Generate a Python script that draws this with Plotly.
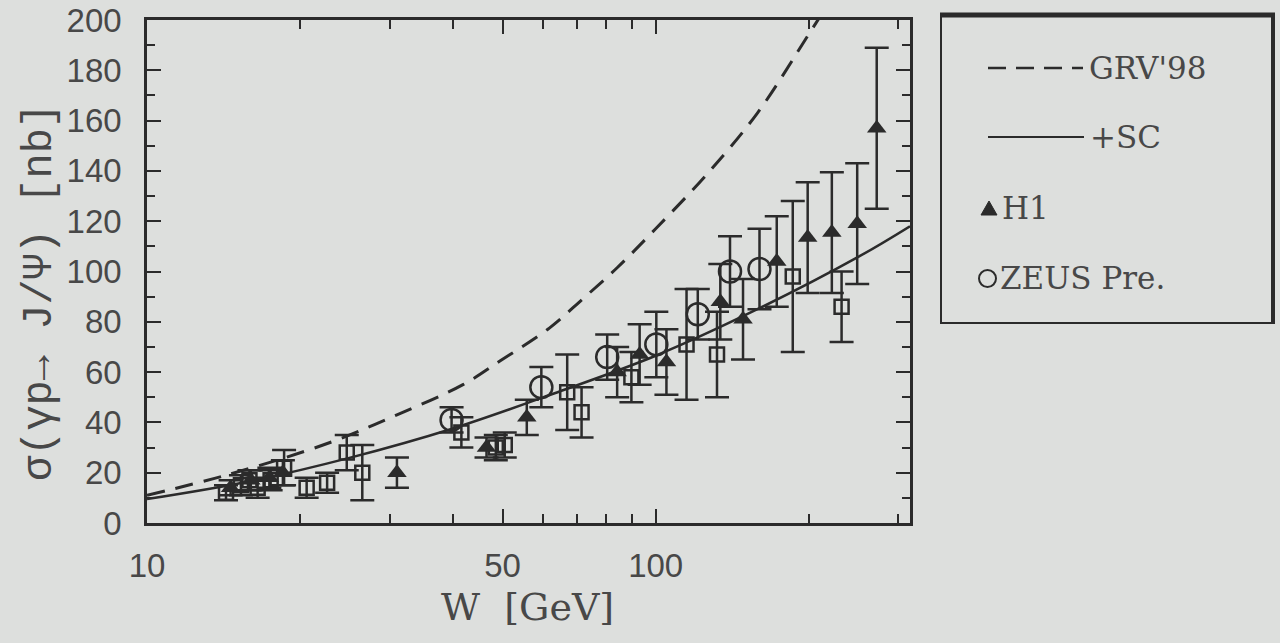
import plotly.graph_objects as go

# --- model curves -------------------------------------------------------
w_grv = [10, 14.6, 22.9, 31, 41.8, 49.4, 61.8, 71.8, 84.1, 100, 125.9, 158.5, 199.5, 224]
sig_grv = [11, 19.5, 32, 43, 55, 64.4, 77.5, 89, 101.6, 117, 138.5, 163, 194, 210]

w_sc = [10, 15.85, 25.1, 39.8, 63.1, 100, 158.5, 251.2, 316.2]
sig_sc = [9.5, 16.5, 26, 37.5, 51.5, 66.5, 85, 106, 118]

# --- H1 data (triangles) ------------------------------------------------
w_h1 = [14.6, 16.0, 17.4, 18.5, 31.0, 46.5, 55.8, 84, 93, 105, 134, 148.5, 173, 199, 222, 249, 272]
sig_h1 = [14, 17, 18, 20, 20, 30, 42, 60, 67, 64, 88, 81, 104, 113.5, 115.5, 119, 157]
err_h1 = [3, 4, 4, 5, 6, 4, 7, 10, 12, 13, 15, 16, 18, 22, 24, 24, 32]

# --- ZEUS preliminary data (open circles) -------------------------------
w_zeus = [39.7, 59.6, 80.3, 100.3, 121, 140, 160]
sig_zeus = [41, 54, 66, 71, 83, 100, 101]
err_zeus = [5, 8, 9, 13, 10, 14, 16]

# --- further measurements (open squares) --------------------------------
w_sq = [14.3, 15.3, 15.9, 16.5, 17.5, 18.6, 20.6, 22.6, 24.7, 26.5, 41.5, 48.5, 50.5,
        67, 71.5, 89.6, 115, 132, 186, 232]
sig_sq = [12, 15, 17, 14, 17, 22, 14, 16, 28, 20, 36, 30, 31,
          52, 44, 58, 71, 67, 98, 86]
err_sq = [3, 4, 4, 4, 4, 7, 4, 4, 7, 11, 6, 5, 5,
          15, 10, 10, 22, 17, 30, 14]

x_title = "W  [GeV]"
y_title = "σ(γp→ J/Ψ) [nb]"

INK = "#2b2b2b"
TXT = "#484848"
BG = "#dddfdd"
SERIF = "DejaVu Serif"
MONO = "Liberation Mono"
SANS = "Liberation Sans"

fig = go.Figure()

fig.add_trace(go.Scatter(x=w_grv, y=sig_grv, mode="lines", name="GRV'98",
                         line=dict(color=INK, width=3, dash="18px,11px", shape="spline")))
fig.add_trace(go.Scatter(x=w_sc, y=sig_sc, mode="lines", name="+SC",
                         line=dict(color=INK, width=2.5, shape="spline")))

ebar = dict(type="data", color=INK, thickness=2.5, width=12)

fig.add_trace(go.Scatter(x=w_sq, y=sig_sq, mode="markers", name="other",
                         marker=dict(symbol="square-open", size=14, color=INK,
                                     line=dict(width=2.5, color=INK)),
                         error_y=dict(array=err_sq, **ebar)))
fig.add_trace(go.Scatter(x=w_zeus, y=sig_zeus, mode="markers", name="ZEUS Pre.",
                         marker=dict(symbol="circle-open", size=22, color=INK,
                                     line=dict(width=2.5, color=INK)),
                         error_y=dict(array=err_zeus, **ebar)))
fig.add_trace(go.Scatter(x=w_h1, y=sig_h1, mode="markers", name="H1",
                         marker=dict(symbol="triangle-up", size=17, color=INK),
                         error_y=dict(array=err_h1, **ebar)))

# plot area in pixels: x 147..910, y 20..523
L, R, T, B = 147, 910, 20, 523


def px(x):
    return (x - L) / (R - L)


def py(y):
    return (B - y) / (B - T)


shapes = []
annotations = []

# legend frame
shapes.append(dict(type="rect", xref="paper", yref="paper",
                   x0=px(941), x1=px(1273), y0=py(323), y1=py(15),
                   line=dict(color=INK, width=2), fillcolor=BG))
shapes.append(dict(type="line", xref="paper", yref="paper",
                   x0=px(940), x1=px(1275), y0=py(15), y1=py(15),
                   line=dict(color=INK, width=5)))
shapes.append(dict(type="line", xref="paper", yref="paper",
                   x0=px(1273), x1=px(1273), y0=py(14), y1=py(324),
                   line=dict(color=INK, width=4)))

# legend entries
shapes.append(dict(type="line", xref="paper", yref="paper",
                   x0=px(988), x1=px(1083), y0=py(68), y1=py(68),
                   line=dict(color=INK, width=2.5, dash="18px,10px")))
shapes.append(dict(type="line", xref="paper", yref="paper",
                   x0=px(988), x1=px(1084), y0=py(137), y1=py(137),
                   line=dict(color=INK, width=2)))
shapes.append(dict(type="path", xref="paper", yref="paper",
                   path=f"M {px(981)},{py(215)} L {px(997)},{py(215)} L {px(989)},{py(201)} Z",
                   fillcolor=INK, line=dict(color=INK, width=1)))
shapes.append(dict(type="circle", xref="paper", yref="paper",
                   x0=px(979), x1=px(996), y0=py(287), y1=py(270),
                   line=dict(color=INK, width=2)))

leg_font = dict(family=SERIF, size=31, color=TXT)
for xx, yy, txt in [(1087, 68, "GRV'98"), (1088, 137, "+SC"),
                    (1000, 208, "H1"), (998, 278, "ZEUS Pre.")]:
    annotations.append(dict(xref="paper", yref="paper", x=px(xx), y=py(yy),
                            text=txt, showarrow=False, xanchor="left",
                            yanchor="middle", font=leg_font))

# axis titles
annotations.append(dict(xref="paper", yref="paper", x=px(527), y=py(607),
                        text=x_title, showarrow=False, xanchor="center", yanchor="middle",
                        font=dict(family=SERIF, size=38, color=TXT)))
annotations.append(dict(xref="paper", yref="paper", x=px(40), y=py(292),
                        text=y_title, showarrow=False, xanchor="center", yanchor="middle",
                        textangle=-90, font=dict(family=MONO, size=42, color=TXT)))

fig.update_layout(
    width=1280, height=643,
    margin=dict(l=L, r=1280 - R, t=T, b=643 - B),
    paper_bgcolor=BG, plot_bgcolor=BG,
    showlegend=False,
    shapes=shapes, annotations=annotations,
)

fig.update_xaxes(
    type="log", range=[1, 2.5], automargin=False,
    tickmode="array", tickvals=[10, 50, 100], ticktext=["10", "50", "100"],
    ticks="inside", ticklen=14, tickwidth=2, tickcolor=INK,
    minor=dict(tickmode="array", tickvals=[20, 30, 40, 60, 70, 80, 90, 200, 300],
               ticks="inside", ticklen=9, tickwidth=1.5, tickcolor=INK),
    showline=True, linecolor=INK, linewidth=2.5, mirror="ticks",
    showgrid=False, zeroline=False,
    tickfont=dict(family=SANS, size=33, color=TXT),
    ticklabelstandoff=12,
)
fig.update_yaxes(
    range=[0, 200], automargin=False,
    tickmode="array", tickvals=list(range(0, 201, 20)),
    ticks="inside", ticklen=14, tickwidth=2, tickcolor=INK,
    minor=dict(tickmode="array", tickvals=list(range(10, 200, 20)),
               ticks="inside", ticklen=8, tickwidth=1.5, tickcolor=INK),
    showline=True, linecolor=INK, linewidth=2.5, mirror="ticks",
    showgrid=False, zeroline=False,
    tickfont=dict(family=SANS, size=33, color=TXT),
    ticklabelstandoff=16,
)

fig.write_html("out.html")
